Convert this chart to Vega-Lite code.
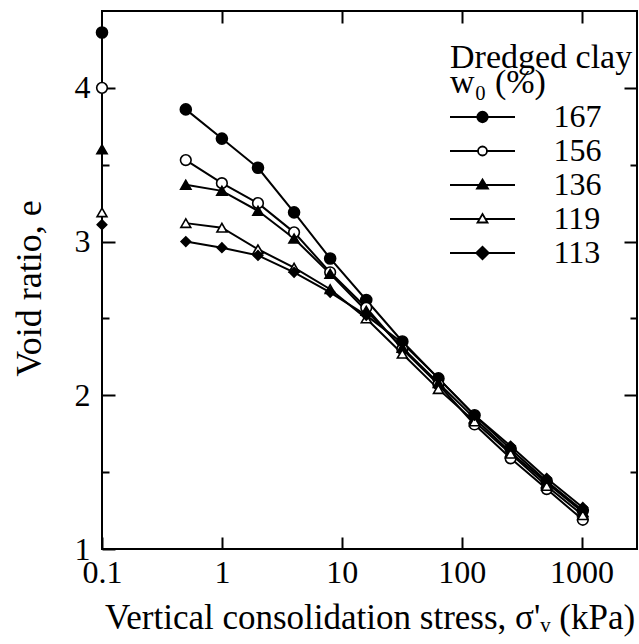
{
  "$schema": "https://vega.github.io/schema/vega-lite/v6.json",
  "width": 535,
  "height": 538,
  "autosize": {"type": "none"},
  "padding": {"left": 102, "top": 11, "right": 2, "bottom": 95},
  "background": "white",
  "data": {"values": [
    {"w": "167", "s": 0.1, "e": 4.36}, {"w": "167", "s": 0.5, "e": 3.86}, {"w": "167", "s": 1, "e": 3.67}, {"w": "167", "s": 2, "e": 3.48}, {"w": "167", "s": 4, "e": 3.19}, {"w": "167", "s": 8, "e": 2.89}, {"w": "167", "s": 16, "e": 2.62}, {"w": "167", "s": 32, "e": 2.35}, {"w": "167", "s": 64, "e": 2.11}, {"w": "167", "s": 128, "e": 1.87}, {"w": "167", "s": 256, "e": 1.65}, {"w": "167", "s": 512, "e": 1.44}, {"w": "167", "s": 1024, "e": 1.25},
    {"w": "156", "s": 0.1, "e": 4.00}, {"w": "156", "s": 0.5, "e": 3.53}, {"w": "156", "s": 1, "e": 3.38}, {"w": "156", "s": 2, "e": 3.25}, {"w": "156", "s": 4, "e": 3.06}, {"w": "156", "s": 8, "e": 2.80}, {"w": "156", "s": 16, "e": 2.57}, {"w": "156", "s": 32, "e": 2.30}, {"w": "156", "s": 64, "e": 2.07}, {"w": "156", "s": 128, "e": 1.81}, {"w": "156", "s": 256, "e": 1.59}, {"w": "156", "s": 512, "e": 1.39}, {"w": "156", "s": 1024, "e": 1.19},
    {"w": "136", "s": 0.1, "e": 3.60}, {"w": "136", "s": 0.5, "e": 3.37}, {"w": "136", "s": 1, "e": 3.33}, {"w": "136", "s": 2, "e": 3.20}, {"w": "136", "s": 4, "e": 3.02}, {"w": "136", "s": 8, "e": 2.79}, {"w": "136", "s": 16, "e": 2.55}, {"w": "136", "s": 32, "e": 2.31}, {"w": "136", "s": 64, "e": 2.08}, {"w": "136", "s": 128, "e": 1.85}, {"w": "136", "s": 256, "e": 1.63}, {"w": "136", "s": 512, "e": 1.43}, {"w": "136", "s": 1024, "e": 1.24},
    {"w": "119", "s": 0.1, "e": 3.19}, {"w": "119", "s": 0.5, "e": 3.12}, {"w": "119", "s": 1, "e": 3.09}, {"w": "119", "s": 2, "e": 2.95}, {"w": "119", "s": 4, "e": 2.83}, {"w": "119", "s": 8, "e": 2.69}, {"w": "119", "s": 16, "e": 2.50}, {"w": "119", "s": 32, "e": 2.27}, {"w": "119", "s": 64, "e": 2.04}, {"w": "119", "s": 128, "e": 1.83}, {"w": "119", "s": 256, "e": 1.62}, {"w": "119", "s": 512, "e": 1.41}, {"w": "119", "s": 1024, "e": 1.22},
    {"w": "113", "s": 0.1, "e": 3.11}, {"w": "113", "s": 0.5, "e": 3.00}, {"w": "113", "s": 1, "e": 2.96}, {"w": "113", "s": 2, "e": 2.91}, {"w": "113", "s": 4, "e": 2.80}, {"w": "113", "s": 8, "e": 2.67}, {"w": "113", "s": 16, "e": 2.52}, {"w": "113", "s": 32, "e": 2.34}, {"w": "113", "s": 64, "e": 2.11}, {"w": "113", "s": 128, "e": 1.87}, {"w": "113", "s": 256, "e": 1.67}, {"w": "113", "s": 512, "e": 1.46}, {"w": "113", "s": 1024, "e": 1.27}
  ]},
  "layer": [
    {
      "transform": [{"filter": "datum.s > 0.2"}],
      "mark": {"type": "line", "color": "black", "strokeWidth": 2},
      "encoding": {
        "x": {"field": "s", "type": "quantitative",
          "scale": {"type": "log", "domain": [0.1, 2900], "nice": false},
          "axis": {"orient": "bottom", "values": [0.1, 1, 10, 100, 1000], "format": "~g", "tickSize": -12, "labelFlush": false, "labelPadding": 20,
            "title": "Vertical consolidation stress, σ'ᵥ (kPa)", "titleFontSize": 35, "titleX": 267.5, "titleY": 79, "titleBaseline": "alphabetic", "titleAlign": "center"}},
        "y": {"field": "e", "type": "quantitative",
          "scale": {"domain": [1, 4.5], "nice": false, "zero": false},
          "axis": {"orient": "left", "values": [1, 2, 3, 4], "format": "d", "tickSize": -13, "labelPadding": 25,
            "title": "Void ratio, e", "titleFontSize": 36, "titleX": -62, "titleY": 277, "titleAngle": 270, "titleBaseline": "alphabetic", "titleAlign": "center"}},
        "detail": {"field": "w", "type": "nominal"}
      }
    },
    {
      "transform": [{"filter": "datum.s > 0.2"}],
      "mark": {"type": "point", "stroke": "black", "strokeWidth": 1.6, "opacity": 1},
      "encoding": {
        "x": {"field": "s", "type": "quantitative",
          "scale": {"type": "log", "domain": [0.1, 2900], "nice": false},
          "axis": {"orient": "top", "values": [1, 10, 100, 1000], "labels": false, "tickSize": -12, "title": null}},
        "y": {"field": "e", "type": "quantitative",
          "scale": {"domain": [1, 4.5], "nice": false, "zero": false},
          "axis": {"orient": "right", "values": [1.5, 2, 2.5, 3, 3.5, 4],
            "tickSize": {"condition": {"test": "datum.value % 1 === 0", "value": -13}, "value": -7},
            "labels": false, "title": null}},
        "shape": {"field": "w", "type": "nominal",
          "scale": {"domain": ["167", "156", "136", "119", "113"], "range": ["circle", "circle", "triangle-up", "triangle-up", "diamond"]},
          "legend": null},
        "fill": {"field": "w", "type": "nominal",
          "scale": {"domain": ["167", "156", "136", "119", "113"], "range": ["black", "white", "black", "white", "black"]},
          "legend": null},
        "size": {"field": "w", "type": "nominal",
          "scale": {"domain": ["167", "156", "136", "119", "113"], "range": [121, 90, 144, 121, 196]},
          "legend": null}
      }
    },
    {
      "transform": [{"filter": "datum.s < 0.2"}],
      "mark": {"type": "point", "stroke": "black", "strokeWidth": 1.6, "opacity": 1},
      "encoding": {
        "x": {"field": "s", "type": "quantitative",
          "scale": {"type": "log", "domain": [0.1, 2900], "nice": false},
          "axis": null},
        "y": {"field": "e", "type": "quantitative",
          "scale": {"domain": [1, 4.5], "nice": false, "zero": false},
          "axis": {"orient": "left", "values": [1.5, 2.5, 3.5], "tickSize": -7, "labels": false, "title": null}},
        "shape": {"field": "w", "type": "nominal",
          "scale": {"domain": ["167", "156", "136", "119", "113"], "range": ["circle", "circle", "triangle-up", "triangle-up", "diamond"]},
          "legend": null},
        "fill": {"field": "w", "type": "nominal",
          "scale": {"domain": ["167", "156", "136", "119", "113"], "range": ["black", "white", "black", "white", "black"]},
          "legend": null},
        "size": {"field": "w", "type": "nominal",
          "scale": {"domain": ["167", "156", "136", "119", "113"], "range": [121, 90, 144, 121, 196]},
          "legend": null}
      }
    },
    {
      "transform": [{"filter": "datum.s < 0"}],
      "mark": {"type": "point", "strokeWidth": 1.8, "opacity": 1},
      "encoding": {
        "x": {"field": "s", "type": "quantitative",
          "scale": {"type": "log", "domain": [0.1, 2900], "nice": false},
          "axis": null},
        "y": {"field": "e", "type": "quantitative",
          "scale": {"domain": [1, 4.5], "nice": false, "zero": false},
          "axis": null},
        "shape": {"field": "w", "type": "nominal",
          "scale": {"domain": ["167", "156", "136", "119", "113"],
            "range": [
              "M-6.5,0L6.5,0M1.05,0A1.05,1.05 0 1,1 -1.05,0A1.05,1.05 0 1,1 1.05,0Z",
              "M-6.5,0L-0.9,0M0.9,0L6.5,0M0.9,0A0.9,0.9 0 1,1 -0.9,0A0.9,0.9 0 1,1 0.9,0Z",
              "M-6.5,0L6.5,0M0,-1.1L1.1,0.7L-1.1,0.7Z",
              "M-6.5,0L-0.6,0M0.6,0L6.5,0M0,-1L1,0.7L-1,0.7Z",
              "M-6.5,0L6.5,0M-1.25,0L0,-1.25L1.25,0L0,1.25Z"]},
          "legend": {"title": ["Dredged clay", "w₀ (%)"], "orient": "none", "legendX": 348, "legendY": 30}},
        "fill": {"field": "w", "type": "nominal",
          "scale": {"domain": ["167", "156", "136", "119", "113"], "range": ["black", "white", "black", "white", "black"]}},
        "stroke": {"field": "w", "type": "nominal",
          "scale": {"domain": ["167", "156", "136", "119", "113"], "range": ["black", "black", "black", "black", "black"]}}
      }
    }
  ],
  "resolve": {
    "axis": {"x": "independent", "y": "independent"},
    "scale": {"shape": "independent", "fill": "independent", "stroke": "independent"}
  },
  "config": {
    "font": "Liberation Serif",
    "view": {"stroke": "black", "strokeWidth": 2},
    "axis": {"grid": false, "domain": false, "tickColor": "black", "tickWidth": 2,
      "labelFont": "Liberation Serif", "labelFontSize": 32, "labelColor": "black",
      "titleFont": "Liberation Serif, DejaVu Serif", "titleFontSize": 34, "titleFontWeight": "normal", "titleColor": "black"},
    "legend": {"titleFont": "Liberation Serif, DejaVu Serif", "titleFontSize": 34, "titleFontWeight": "normal", "titleColor": "black",
      "titleLineHeight": 25, "titlePadding": 1, "titleLimit": 400,
      "labelFont": "Liberation Serif", "labelFontSize": 32, "labelColor": "black",
      "symbolSize": 100, "symbolStrokeWidth": 1.8, "symbolStrokeColor": "black", "symbolOpacity": 1,
      "symbolOffset": 16.5, "labelOffset": 55, "rowPadding": 2}
  }
}
